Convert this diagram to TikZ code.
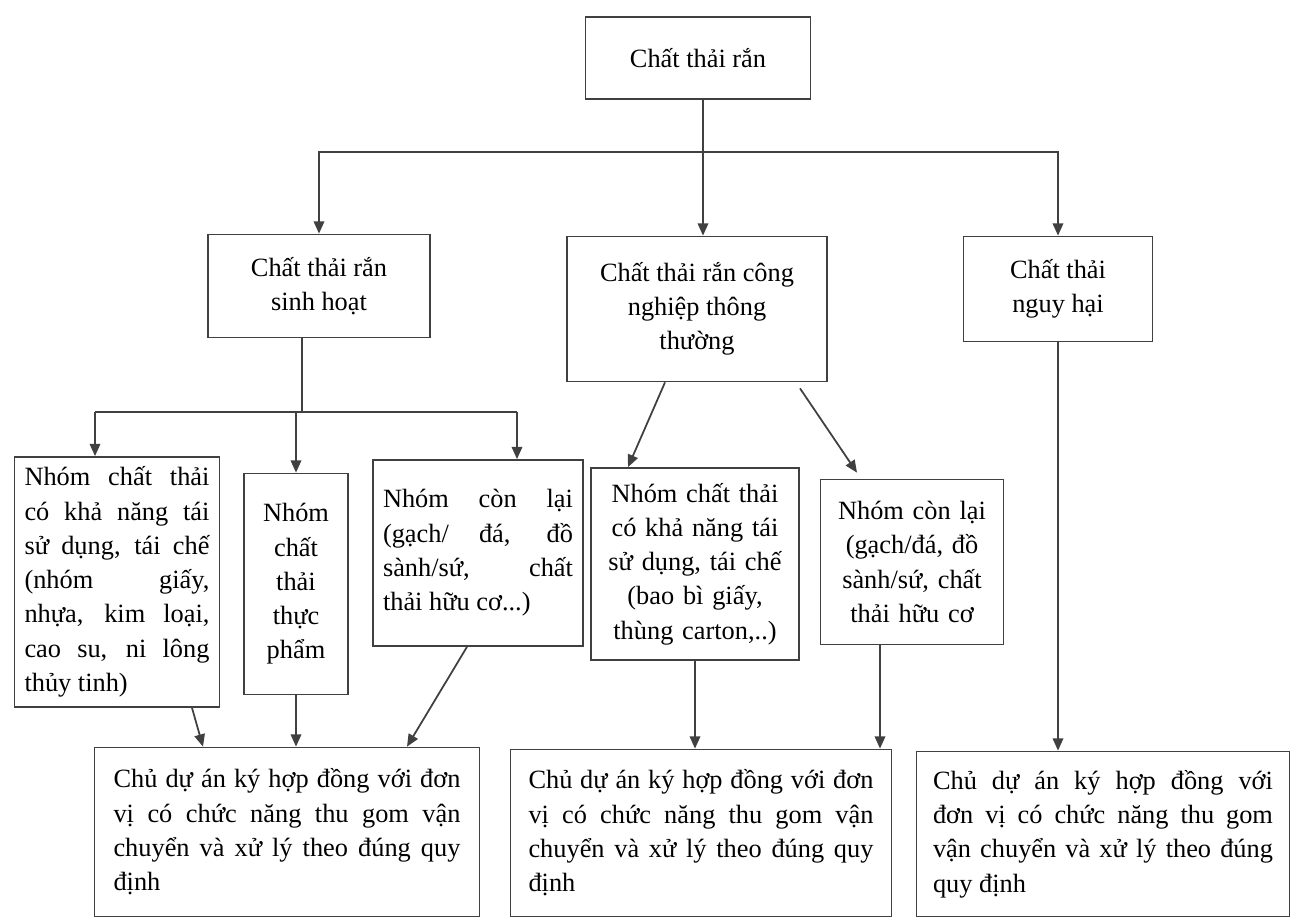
\documentclass[tikz,border=0pt]{standalone}
\usepackage{fontspec}
\setmainfont{Liberation Serif}
\usetikzlibrary{arrows.meta,calc}

\begin{document}
\begin{tikzpicture}[x=0.02cm,y=-0.02cm,
  box/.style={draw=black!75,line width=1pt,inner sep=2pt,font=\fontsize{15}{19.5}\selectfont},
  ln/.style={draw=black!75,line width=1pt},
  arr/.style={ln,-{Triangle[length=7pt,width=6pt]}}]
\useasboundingbox (0,0) rectangle (1302,922);
\node[box,minimum width=4.5cm,minimum height=1.64cm,align=center] (tong) at (698,58) {Chất thải rắn};
\node[box,minimum width=4.44cm,minimum height=2.06cm,align=center] (sinhhoat) at (319,286) {Chất thải rắn\\sinh hoạt};
\node[box,minimum width=5.2cm,minimum height=2.9cm,align=center] (congnghiep) at (697,309) {Chất thải rắn công\\nghiệp thông\\thường};
\node[box,minimum width=3.78cm,minimum height=2.1cm,align=center] (nguyhai) at (1058,289) {Chất thải\\nguy hại};
\node[box,minimum width=4.1cm,minimum height=5cm,text width=3.7cm,align=justify] (nhom1) at (117,582) {Nhóm chất thải\linebreak có khả năng tái\linebreak sử dụng, tái chế\linebreak (nhóm giấy,\linebreak nhựa, kim loại,\linebreak cao su, ni lông\linebreak thủy tinh)};
\node[box,minimum width=2.08cm,minimum height=4.42cm,text width=1.7cm,align=center] (nhom2) at (296,584) {Nhóm\\chất\\thải\\thực\\phẩm};
\node[box,minimum width=4.2cm,minimum height=3.72cm,text width=3.8cm,align=justify] (nhom3) at (478,553) {Nhóm còn lại\linebreak (gạch/ đá, đồ\linebreak sành/sứ, chất\linebreak thải hữu cơ...)};
\node[box,minimum width=4.16cm,minimum height=3.84cm,text width=3.76cm,align=center] (nhom4) at (695,564) {Nhóm chất thải\\có khả năng tái\\sử dụng, tái chế\\(bao bì giấy,\\thùng carton,..)};
\node[box,minimum width=3.66cm,minimum height=3.3cm,text width=3.26cm,align=center] (nhom5) at (912,562) {Nhóm còn lại\\(gạch/đá, đồ\\sành/sứ, chất\\thải hữu cơ};
\node[box,minimum width=7.7cm,minimum height=3.38cm,text width=6.94cm,align=justify] (xuly1) at (287,832) {Chủ dự án ký hợp đồng với đơn\linebreak vị có chức năng thu gom vận\linebreak chuyển và xử lý theo đúng quy\linebreak định};
\node[box,minimum width=7.62cm,minimum height=3.34cm,text width=6.9cm,align=justify] (xuly2) at (701,833) {Chủ dự án ký hợp đồng với đơn\linebreak vị có chức năng thu gom vận\linebreak chuyển và xử lý theo đúng quy\linebreak định};
\node[box,minimum width=7.46cm,minimum height=3.3cm,text width=6.8cm,align=justify] (xuly3) at (1103,834) {Chủ dự án ký hợp đồng với\linebreak đơn vị có chức năng thu gom\linebreak vận chuyển và xử lý theo đúng\linebreak quy định};
\coordinate (j1) at (703,152);
\coordinate (j2) at (302,412);
\coordinate (j3) at (95,412);
\coordinate (j4) at (517,412);
\coordinate (k5) at ($(nhom5.south)+(-32,0)$);
\draw[ln] (tong.south -| j1) -- (j1);
\draw[arr] (j1) -| (sinhhoat.north);
\draw[arr] (j1) -- (j1 |- congnghiep.north);
\draw[arr] (j1) -| (nguyhai.north);
\draw[ln] (sinhhoat.south -| j2) -- (j2);
\draw[ln] (j3) -- (j4);
\draw[arr] (j3) -- (j3 |- nhom1.north);
\draw[arr] (nhom2.north |- j2) -- (nhom2.north);
\draw[arr] (j4) -- (j4 |- nhom3.north);
\draw[arr] ($(congnghiep.south)+(-32,0)$) -- ($(nhom4.north)+(-67,0)$);
\draw[arr] ($(congnghiep.south)+(103,6)$) -- ($(nhom5.north)+(-55,-6)$);
\draw[arr] ($(nhom1.south)+(75,0)$) -- ($(xuly1.north)+(-84,0)$);
\draw[arr] (nhom2.south) -- (nhom2.south |- xuly1.north);
\draw[arr] ($(nhom3.south)+(-11,0)$) -- ($(xuly1.north)+(120,0)$);
\draw[arr] (nhom4.south) -- (nhom4.south |- xuly2.north);
\draw[arr] (k5) -- (k5 |- xuly2.north);
\draw[arr] (nguyhai.south) -- (nguyhai.south |- xuly3.north);
\end{tikzpicture}
\end{document}
